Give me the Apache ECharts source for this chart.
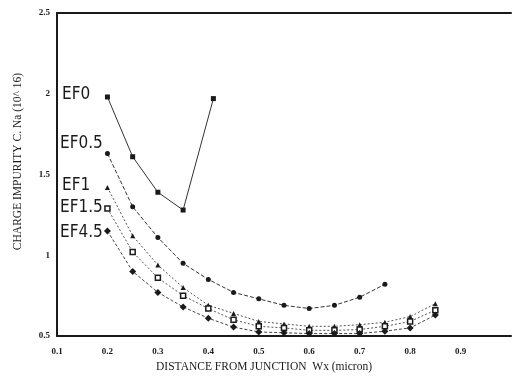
<!DOCTYPE html>
<html>
<head>
<meta charset="utf-8">
<script src="https://cdn.jsdelivr.net/npm/echarts@6/dist/echarts.min.js"></script>
<style>
  html, body { margin: 0; padding: 0; background: #fff; }
  #chart { width: 514px; height: 381px; }
</style>
</head>
<body>
<div id="chart"></div>
<script>
// distance from junction Wx (micron) for each curve
const xEF0 = [0.2, 0.25, 0.3, 0.35, 0.41];
const xRest = [0.2, 0.25, 0.3, 0.35, 0.4, 0.45, 0.5, 0.55, 0.6, 0.65, 0.7, 0.75, 0.8, 0.85];
const xEF05 = [0.2, 0.25, 0.3, 0.35, 0.4, 0.45, 0.5, 0.55, 0.6, 0.65, 0.7, 0.75];

// charge impurity Na (10^16)
const yEF0 = [1.98, 1.61, 1.39, 1.28, 1.97];
const yEF05 = [1.63, 1.30, 1.11, 0.95, 0.85, 0.77, 0.73, 0.69, 0.67, 0.69, 0.74, 0.82];
const yEF1 = [1.42, 1.12, 0.94, 0.80, 0.69, 0.64, 0.59, 0.575, 0.56, 0.56, 0.57, 0.585, 0.62, 0.70];
const yEF15 = [1.29, 1.02, 0.86, 0.75, 0.67, 0.60, 0.56, 0.55, 0.535, 0.535, 0.54, 0.56, 0.59, 0.66];
const yEF45 = [1.15, 0.90, 0.77, 0.68, 0.61, 0.555, 0.525, 0.52, 0.515, 0.515, 0.515, 0.53, 0.55, 0.63];

const xTicks = [0.1, 0.2, 0.3, 0.4, 0.5, 0.6, 0.7, 0.8, 0.9];
const yTicks = [0.5, 1, 1.5, 2, 2.5];

const seriesNames = ['EF0', 'EF0.5', 'EF1', 'EF1.5', 'EF4.5'];

function pairs(xs, ys) {
    return xs.map((x, i) => [x, ys[i]]);
}

const ink = '#1a1a1a';
const serif = 'Liberation Serif';
const labelFont = '17px "DejaVu Sans Condensed", sans-serif';

let myChart = echarts.init(document.querySelector('#chart'));
let option = {
    animation: false,
    backgroundColor: '#fff',
    grid: { left: 57, right: 0, top: 13, bottom: 45 },
    xAxis: [{
        type: 'value',
        min: 0.1,
        max: 1.0,
        interval: 0.1,
        name: 'DISTANCE FROM JUNCTION  Wx (micron)',
        nameLocation: 'middle',
        nameGap: 25,
        nameTextStyle: { fontFamily: serif, fontSize: 11.5, color: ink, padding: [0, 40, 0, 0] },
        axisLine: { lineStyle: { color: ink, width: 2 } },
        axisTick: { show: false },
        splitLine: { show: false },
        axisLabel: {
            fontFamily: serif, fontSize: 9, color: ink, fontWeight: 'bold', margin: 11,
            formatter: v => xTicks.some(t => Math.abs(t - v) < 1e-6) ? String(v) : ''
        }
    }, {
        type: 'value',
        position: 'top',
        min: 0.1,
        max: 1.0,
        axisLine: { show: true, lineStyle: { color: ink, width: 2 } },
        axisTick: { show: false },
        axisLabel: { show: false },
        splitLine: { show: false }
    }],
    yAxis: {
        type: 'value',
        min: 0.5,
        max: 2.5,
        interval: 0.5,
        name: 'CHARGE IMPURITY C. Na (10^ 16)',
        nameLocation: 'middle',
        nameGap: 33,
        nameTextStyle: { fontFamily: serif, fontSize: 11.5, color: ink, padding: [0, 0, 0, 26] },
        axisLine: { show: true, lineStyle: { color: ink, width: 2 } },
        axisTick: { show: false },
        splitLine: { show: false },
        axisLabel: {
            fontFamily: serif, fontSize: 9, color: ink, fontWeight: 'bold', margin: 7,
            formatter: v => yTicks.includes(v) ? String(v) : ''
        }
    },
    graphic: [
        { type: 'text', left: 62, top: 86, style: { text: seriesNames[0], font: labelFont, fill: ink } },
        { type: 'text', left: 60, top: 135, style: { text: seriesNames[1], font: labelFont, fill: ink } },
        { type: 'text', left: 62, top: 177, style: { text: seriesNames[2], font: labelFont, fill: ink } },
        { type: 'text', left: 60, top: 199, style: { text: seriesNames[3], font: labelFont, fill: ink } },
        { type: 'text', left: 60, top: 224, style: { text: seriesNames[4], font: labelFont, fill: ink } }
    ],
    series: [{
        name: seriesNames[0],
        type: 'line',
        data: pairs(xEF0, yEF0),
        symbol: 'rect',
        symbolSize: 5,
        itemStyle: { color: ink },
        lineStyle: { color: '#333', width: 1 }
    }, {
        name: seriesNames[1],
        type: 'line',
        data: pairs(xEF05, yEF05),
        symbol: 'circle',
        symbolSize: 5,
        itemStyle: { color: ink },
        lineStyle: { color: '#333', width: 1, type: [4, 2] }
    }, {
        name: seriesNames[2],
        type: 'line',
        data: pairs(xRest, yEF1),
        symbol: 'triangle',
        symbolSize: 5,
        itemStyle: { color: ink },
        lineStyle: { color: '#555', width: 1, type: [2, 2] }
    }, {
        name: seriesNames[3],
        type: 'line',
        data: pairs(xRest, yEF15),
        symbol: 'rect',
        symbolSize: 5,
        itemStyle: { color: '#fff', borderColor: ink, borderWidth: 1.5 },
        lineStyle: { color: '#555', width: 1, type: [2, 2] }
    }, {
        name: seriesNames[4],
        type: 'line',
        data: pairs(xRest, yEF45),
        symbol: 'diamond',
        symbolSize: 7,
        itemStyle: { color: ink },
        lineStyle: { color: '#444', width: 1, type: [3, 2] }
    }]
};
myChart.setOption(option);
</script>
</body>
</html>
